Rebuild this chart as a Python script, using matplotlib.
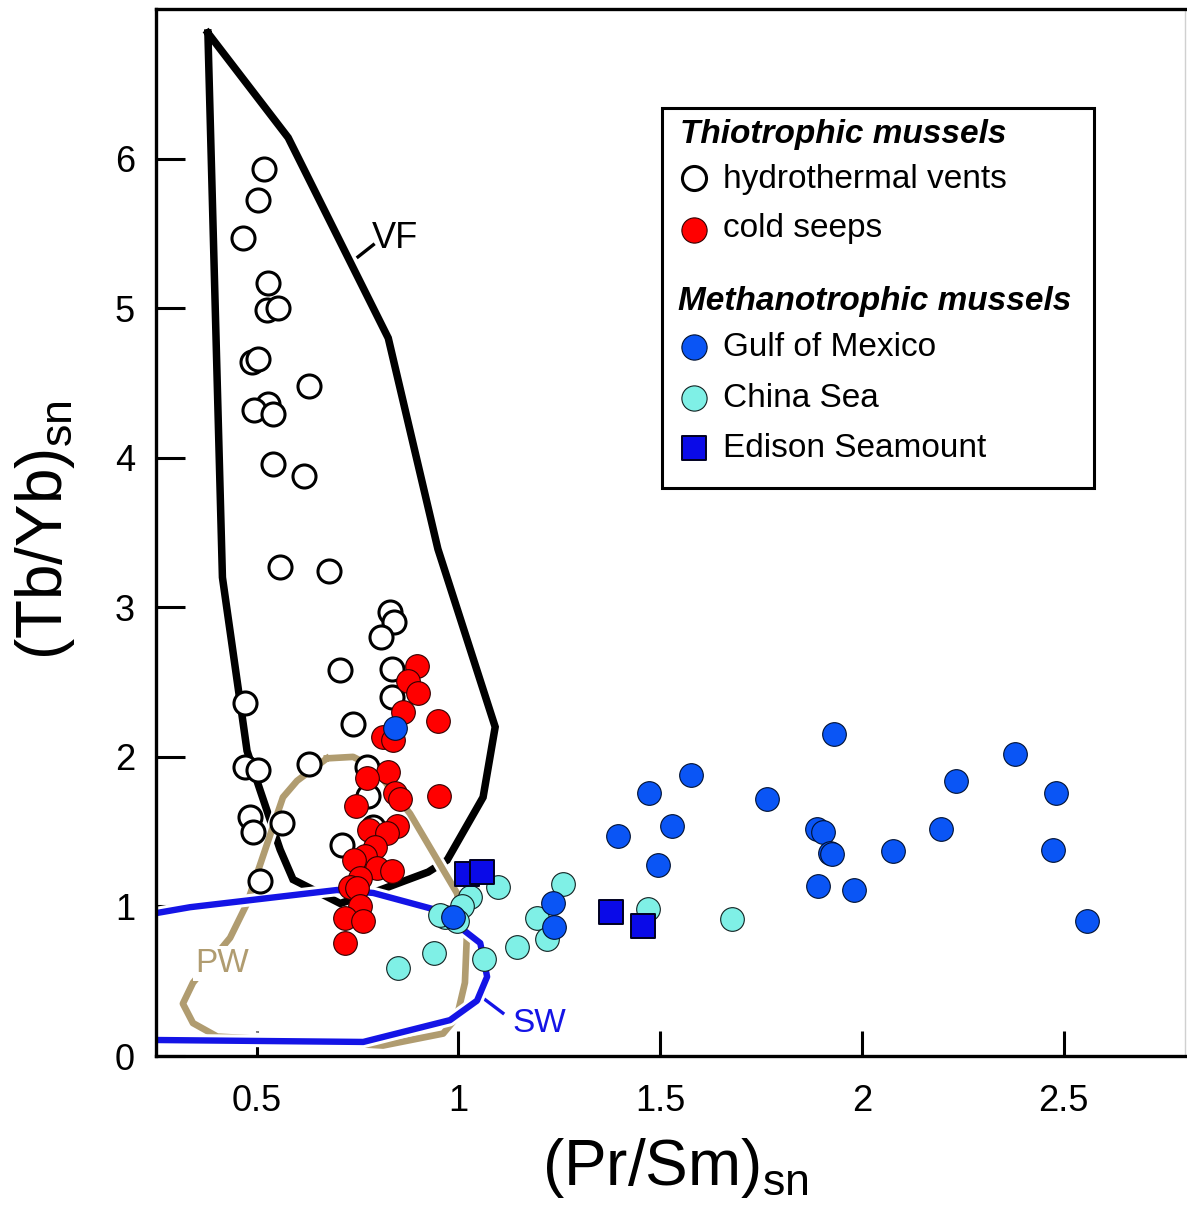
import matplotlib.pyplot as plt
import matplotlib.patheffects as pe
from matplotlib.patches import Rectangle

plt.rcParams['font.family'] = 'Liberation Sans'
plt.rcParams['mathtext.fontset'] = 'custom'
plt.rcParams['mathtext.rm'] = 'Liberation Sans'
plt.rcParams['mathtext.it'] = 'Liberation Sans:italic'

# ---- data: (Pr/Sm)sn vs (Tb/Yb)sn ----
vents_x = [0.518, 0.503, 0.466, 0.528, 0.526, 0.553, 0.488, 0.503, 0.630, 0.528,
           0.493, 0.540, 0.540, 0.618, 0.558, 0.680, 0.831, 0.840, 0.809, 0.707,
           0.836, 0.836, 0.471, 0.739, 0.630, 0.471, 0.503, 0.774, 0.776, 0.484,
           0.491, 0.563, 0.787, 0.712, 0.509]
vents_y = [5.93, 5.72, 5.47, 5.17, 4.99, 5.00, 4.64, 4.66, 4.48, 4.36,
           4.32, 4.29, 3.96, 3.88, 3.27, 3.24, 2.97, 2.90, 2.80, 2.58,
           2.59, 2.40, 2.36, 2.22, 1.95, 1.93, 1.91, 1.93, 1.74, 1.60,
           1.50, 1.56, 1.53, 1.41, 1.17]

seeps_x = [0.896, 0.875, 0.900, 0.863, 0.950, 0.813, 0.838, 0.826, 0.774, 0.843,
           0.855, 0.952, 0.746, 0.848, 0.779, 0.823, 0.793, 0.769, 0.740, 0.798,
           0.835, 0.757, 0.731, 0.748, 0.757, 0.720, 0.764, 0.720]
seeps_y = [2.61, 2.51, 2.43, 2.30, 2.24, 2.13, 2.11, 1.90, 1.86, 1.76,
           1.72, 1.74, 1.67, 1.54, 1.51, 1.49, 1.40, 1.34, 1.31, 1.26,
           1.24, 1.19, 1.13, 1.12, 1.00, 0.92, 0.90, 0.755]

gulf_x = [0.843, 0.987, 1.235, 1.238, 1.396, 1.473, 1.577, 1.529, 1.495, 1.931,
          1.765, 1.889, 1.904, 1.921, 1.926, 1.891, 1.980, 2.077, 2.196, 2.233,
          2.380, 2.481, 2.474, 2.558]
gulf_y = [2.19, 0.93, 1.02, 0.86, 1.47, 1.76, 1.88, 1.54, 1.28, 2.15,
          1.72, 1.52, 1.50, 1.36, 1.35, 1.14, 1.11, 1.37, 1.52, 1.84,
          2.02, 1.76, 1.38, 0.90]

china_x = [1.098, 1.260, 1.029, 1.009, 0.967, 0.996, 1.195, 1.220, 1.145, 1.064,
           0.940, 0.851, 1.470, 1.678, 0.955]
china_y = [1.13, 1.15, 1.06, 1.00, 0.93, 0.90, 0.92, 0.78, 0.73, 0.65,
           0.69, 0.59, 0.98, 0.915, 0.94]

edison_x = [1.021, 1.058, 1.378, 1.458]
edison_y = [1.22, 1.23, 0.96, 0.87]

# field outlines
vf_x = [0.379, 0.578, 0.826, 0.949, 1.091, 1.061, 0.972, 0.925, 0.806, 0.707,
        0.590, 0.558, 0.508, 0.476, 0.454, 0.415, 0.379]
vf_y = [6.84, 6.14, 4.80, 3.39, 2.20, 1.73, 1.31, 1.23, 1.11, 1.02,
        1.18, 1.38, 1.78, 2.04, 2.46, 3.20, 6.84]

pw_x = [0.674, 0.739, 0.790, 0.880, 0.996, 1.021, 1.016, 0.996, 0.962, 0.813,
        0.402, 0.342, 0.317, 0.342, 0.434, 0.476, 0.526, 0.565, 0.600, 0.674]
pw_y = [1.99, 2.00, 1.93, 1.62, 1.09, 0.82, 0.49, 0.26, 0.15, 0.07,
        0.13, 0.22, 0.35, 0.49, 0.79, 1.02, 1.42, 1.73, 1.84, 1.99]

sw_x = [0.25, 0.335, 0.699, 0.789, 0.947, 1.004, 1.054, 1.071, 1.046, 0.979, 0.764, 0.25]
sw_y = [0.955, 0.995, 1.11, 1.09, 0.975, 0.86, 0.755, 0.53, 0.37, 0.24, 0.094, 0.107]

xticks = [0.5, 1, 1.5, 2, 2.5]
xticklabels = ['0.5', '1', '1.5', '2', '2.5']
yticks = [0, 1, 2, 3, 4, 5, 6]

c_red = '#ff0000'
c_gulf = '#0a55f5'
c_china = '#7ff0e6'
c_edison = '#0a0ae8'
c_tan = '#b09c70'
c_sw = '#1414e6'

open_style = dict(s=275, facecolor='white', edgecolor='black', linewidth=2.2)
red_style = dict(s=290, facecolor=c_red, edgecolor='#300000', linewidth=0.8)
gulf_style = dict(s=290, facecolor=c_gulf, edgecolor='#001030', linewidth=0.8)
china_style = dict(s=290, facecolor=c_china, edgecolor='#102020', linewidth=0.8)
edison_style = dict(s=280, marker='s', facecolor=c_edison, edgecolor='#000020', linewidth=1.4)

fig = plt.figure(figsize=(11.87, 12.07), dpi=100)
ax = fig.add_axes([0.1313, 0.1251, 0.8668, 0.8674])

halo = [pe.Stroke(linewidth=9, foreground='white'), pe.Normal()]
ax.plot(vf_x, vf_y, color='black', lw=5.4, zorder=2, solid_joinstyle='miter')
ax.plot(pw_x, pw_y, color=c_tan, lw=4.8, zorder=2.2, path_effects=halo)
ax.plot(sw_x, sw_y, color=c_sw, lw=4.6, zorder=2.4, path_effects=halo)

# small connectors and field labels
ax.plot([0.751, 0.789], [5.343, 5.424], color='black', lw=2.4, zorder=2)
ax.text(0.786, 5.40, 'VF', fontsize=26, color='black', ha='left', va='baseline')
ax.plot([1.061, 1.110], [0.387, 0.287], color=c_sw, lw=2.4, zorder=2)
ax.text(1.135, 0.160, 'SW', fontsize=24, color=c_sw, ha='left', va='baseline')
ax.text(0.347, 0.561, 'PW', fontsize=24, color=c_tan, ha='left', va='baseline', zorder=2.3,
        bbox=dict(boxstyle='square,pad=0.05', fc='white', ec='none'))

ax.scatter(vents_x, vents_y, zorder=3, **open_style)
ax.scatter(seeps_x, seeps_y, zorder=4, **red_style)
ax.scatter(china_x, china_y, zorder=5, **china_style)
ax.scatter(gulf_x, gulf_y, zorder=6, **gulf_style)
ax.scatter(edison_x, edison_y, zorder=7, **edison_style)

ax.set_xlim(0.25, 2.8)
ax.set_ylim(0, 7)
ax.set_xticks(xticks)
ax.set_xticklabels(xticklabels)
ax.set_yticks(yticks)
ax.tick_params(axis='both', direction='in', width=2.2, labelsize=26, color='black')
ax.tick_params(axis='x', length=18, pad=20)
ax.tick_params(axis='y', length=21, pad=15)
for side in ['left', 'bottom', 'top']:
    ax.spines[side].set_linewidth(2.4)
ax.spines['right'].set_color('#d0d0d0')
ax.spines['right'].set_linewidth(1.0)

fig.text(675 / 1187, 1 - 1185 / 1207, r'$\mathrm{(Pr/Sm)_{sn}}$', fontsize=46,
         ha='center', va='baseline')
fig.text(62 / 1187, 1 - 530 / 1207, r'$\mathrm{(Tb/Yb)_{sn}}$', fontsize=46,
         rotation=90, rotation_mode='anchor', ha='center', va='baseline')

# legend box drawn by hand (axes fraction)
ax.add_patch(Rectangle((0.492, 0.5425), 0.420, 0.363, transform=ax.transAxes,
                       facecolor='white', edgecolor='black', linewidth=2.2, zorder=8))
fs = 24
ax.text(0.5095, 0.872, 'Thiotrophic mussels', transform=ax.transAxes, fontsize=fs,
        fontweight='bold', fontstyle='italic', va='baseline', zorder=9)
ax.text(0.5076, 0.7125, 'Methanotrophic mussels', transform=ax.transAxes, fontsize=fs,
        fontweight='bold', fontstyle='italic', va='baseline', zorder=9)
rows = [
    (0.8386, 0.8290, 'hydrothermal vents', dict(open_style, s=300)),
    (0.7889, 0.7822, 'cold seeps', dict(red_style, s=330)),
    (0.6772, 0.6686, 'Gulf of Mexico', dict(gulf_style, s=330)),
    (0.6285, 0.6198, 'China Sea', dict(china_style, s=330)),
    (0.5807, 0.5721, 'Edison Seamount', dict(edison_style, s=320)),
]
for ym, yt, label, style in rows:
    ax.scatter([0.5231], [ym], transform=ax.transAxes, zorder=9, clip_on=False, **style)
    ax.text(0.5513, yt, label, transform=ax.transAxes, fontsize=fs, va='baseline', zorder=9)

fig.savefig('out.png', dpi=100)
